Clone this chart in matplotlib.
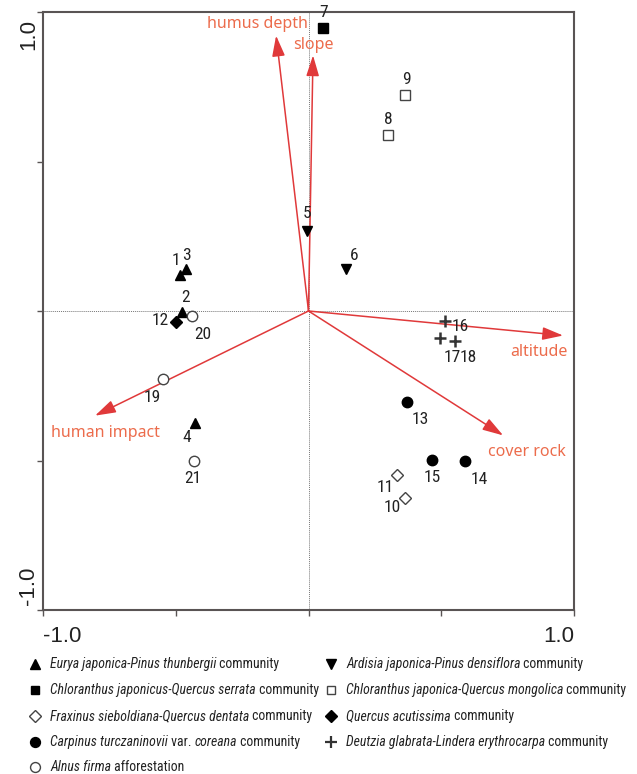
import matplotlib
matplotlib.use("Agg")
import matplotlib.pyplot as plt
from matplotlib.lines import Line2D
from matplotlib import font_manager

# ---- data ----
site_ids = [str(i) for i in range(1, 22)]
axis1 = [-0.484, -0.476, -0.461, -0.427, -0.006, 0.141, 0.055, 0.299, 0.363, 0.363, 0.333,
         -0.499, 0.371, 0.589, 0.465, 0.514, 0.495, 0.552, -0.548, -0.439, -0.431]
axis2 = [0.122, -0.005, 0.139, -0.373, 0.269, 0.142, 0.945, 0.587, 0.721, -0.624, -0.550,
         -0.038, -0.303, -0.500, -0.497, -0.035, -0.089, -0.099, -0.229, -0.018, -0.500]
site_group = [0, 0, 0, 0, 1, 1, 2, 3, 3, 4, 4, 5, 6, 6, 6, 7, 7, 7, 8, 8, 8]

env_names = ["humus depth", "slope", "altitude", "cover rock", "human impact"]
env_x = [-0.122, 0.017, 0.959, 0.733, -0.804]
env_y = [0.921, 0.855, -0.082, -0.416, -0.350]

group_italic = ["Eurya japonica-Pinus thunbergii", "Ardisia japonica-Pinus densiflora",
                "Chloranthus japonicus-Quercus serrata", "Chloranthus japonica-Quercus mongolica",
                "Fraxinus sieboldiana-Quercus dentata", "Quercus acutissima",
                "Carpinus turczaninovii", "Deutzia glabrata-Lindera erythrocarpa",
                "Alnus firma"]
group_suffix = [" community", " community", " community", " community", " community",
                " community", " var. |coreana| community", " community", " afforestation"]

# ---- styles ----
group_marker = ['^', 'v', 's', 's', 'D', 'D', 'o', '+', 'o']
group_fill = [True, True, True, False, False, True, True, True, False]
group_ms = [7, 7, 6.5, 6.5, 6.5, 6.5, 7.5, 8, 7.5]

available = {f.name for f in font_manager.fontManager.ttflist}
def pick(cands):
    for c in cands:
        if c in available:
            return c
    return 'DejaVu Sans'

narrow = pick(['Liberation Sans Narrow', 'DejaVu Sans Condensed', 'Roboto Condensed',
               'Roboto', 'Liberation Sans'])
arial = pick(['Liberation Sans', 'Roboto', 'DejaVu Sans'])
myriad = pick(['Noto Sans', 'Open Sans', 'Lato', 'DejaVu Sans'])

# label offsets in pixels (dx, dy screen; dy positive up)
label_off = {
    '1': (-4, 14), '2': (3, 15), '3': (0, 14), '4': (-8, -15), '5': (0, 17), '6': (8, 13),
    '7': (0, 16), '8': (0, 16), '9': (2, 16), '10': (-13, -10), '11': (-12, -12),
    '12': (-16, 2), '13': (13, -18), '14': (14, -19), '15': (0, -18), '16': (15, -5),
    '17': (21, -20), '18': (5, -17), '19': (-11, -18), '20': (11, -18), '21': (-1, -18)}
label_ha = {'17': 'right', '18': 'left'}

W, H = 637, 774
fig = plt.figure(figsize=(W / 100, H / 100), dpi=100)
ax = fig.add_axes([43 / W, 1 - 610 / H, (574 - 43) / W, (610 - 12) / H])
ax.set_xlim(-1, 1)
ax.set_ylim(-1, 1)
for s in ax.spines.values():
    s.set_color('#595454')
    s.set_linewidth(1.5)
ax.set_xticks([-1, -0.5, 0, 0.5, 1])
ax.set_yticks([-1, -0.5, 0, 0.5, 1])
ax.tick_params(direction='out', length=4, width=1, color='#595454',
               labelbottom=False, labelleft=False)

ax.axhline(0, color='#777777', lw=0.7, ls=(0, (1, 1)), zorder=1)
ax.axvline(0, color='#777777', lw=0.7, ls=(0, (1, 1)), zorder=1)

# tick labels
tkfont = dict(family=arial, fontsize=16, color='#222222', clip_on=False)
ax.text(-1.0, -1.055, "-1.0", ha='left', va='top', **tkfont)
ax.text(1.0, -1.055, "1.0", ha='right', va='top', **tkfont)
ax.text(-1.015, 0.975, "1.0", ha='right', va='top', rotation=90, **tkfont)
ax.text(-1.015, -0.983, "-1.0", ha='right', va='bottom', rotation=90, **tkfont)

# arrows
arrow_col = '#e0393a'
text_col = '#ec6c4c'
env_lab_off = {"humus depth": (-0.072, 0.04), "slope": (0.0, 0.035), "altitude": (-0.09, -0.055),
               "cover rock": (0.09, -0.057), "human impact": (0.04, -0.058)}
for n, x, y in zip(env_names, env_x, env_y):
    ax.annotate("", xy=(x, y), xytext=(0, 0),
                arrowprops=dict(arrowstyle='-|>,head_length=0.9,head_width=0.28',
                                color=arrow_col, lw=1.1, shrinkA=0, shrinkB=0,
                                mutation_scale=14), zorder=3)
    dx, dy = env_lab_off[n]
    ax.text(x + dx, y + dy, n, color=text_col, fontsize=11.5, family=myriad,
            ha='center', va='center', zorder=4)

# points
for g in range(len(group_marker)):
    xs = [axis1[i] for i in range(len(axis1)) if site_group[i] == g]
    ys = [axis2[i] for i in range(len(axis2)) if site_group[i] == g]
    m = group_marker[g]
    if m == '+':
        ax.plot(xs, ys, ls='none', marker='+', ms=group_ms[g], mew=1.8, color='#333333', zorder=5)
    elif group_fill[g]:
        ax.plot(xs, ys, ls='none', marker=m, ms=group_ms[g], color='black', mec='black', zorder=5)
    else:
        ax.plot(xs, ys, ls='none', marker=m, ms=group_ms[g], mfc='white', mec='#444444',
                mew=1.0, zorder=5)

lbl_size = 12.5 if narrow in ('Liberation Sans Narrow', 'DejaVu Sans Condensed', 'Roboto Condensed') else 10.5
for sid, x, y in zip(site_ids, axis1, axis2):
    dx, dy = label_off[sid]
    ax.annotate(sid, (x, y), xytext=(dx * 0.72, dy * 0.72), textcoords='offset points',
                ha=label_ha.get(sid, 'center'), va='center', fontsize=lbl_size, family=narrow,
                color='#222222', zorder=6)

# legend (manual, mixed italic / regular)
rows_y = [664, 690, 716, 742, 767]
col_x = [35, 331]
fig.canvas.draw()
renderer = fig.canvas.get_renderer()

# fit legend font size so the longest entry spans ~280 px
probe_size = 10.0
pt = fig.text(0, 0, group_italic[3], style='italic', family=narrow, fontsize=probe_size)
ps = fig.text(0, 0, group_suffix[3], family=narrow, fontsize=probe_size)
wprobe = pt.get_window_extent(renderer).width + ps.get_window_extent(renderer).width
pt.remove(); ps.remove()
leg_size = probe_size * 280.0 / wprobe

lfont = dict(family=narrow, fontsize=leg_size, color='#222222')
for k in range(len(group_italic)):
    g = k
    col = k % 2
    row = k // 2
    xm = col_x[col] / W
    ym = 1 - rows_y[row] / H
    m = group_marker[g]
    if m == '+':
        fig.add_artist(Line2D([xm], [ym], marker='+', ms=8, mew=1.6, color='#333333',
                              transform=fig.transFigure))
    elif group_fill[g]:
        fig.add_artist(Line2D([xm], [ym], marker=m, ms=group_ms[g] * 0.95, color='black',
                              transform=fig.transFigure))
    else:
        fig.add_artist(Line2D([xm], [ym], marker=m, ms=group_ms[g] * 0.95, mfc='white',
                              mec='#444444', mew=1.0, transform=fig.transFigure))
    parts = [(group_italic[g], 'italic')]
    suf = group_suffix[g].split('|')
    styles = ['normal', 'italic', 'normal']
    for i, p in enumerate(suf):
        parts.append((p, styles[i]))
    xcur = (col_x[col] + 15) / W
    for txt, st in parts:
        if not txt:
            continue
        t = fig.text(xcur, ym, txt, style=st, ha='left', va='center', **lfont)
        bb = t.get_window_extent(renderer)
        xcur = bb.x1 / W

fig.savefig("out.png", dpi=100)
